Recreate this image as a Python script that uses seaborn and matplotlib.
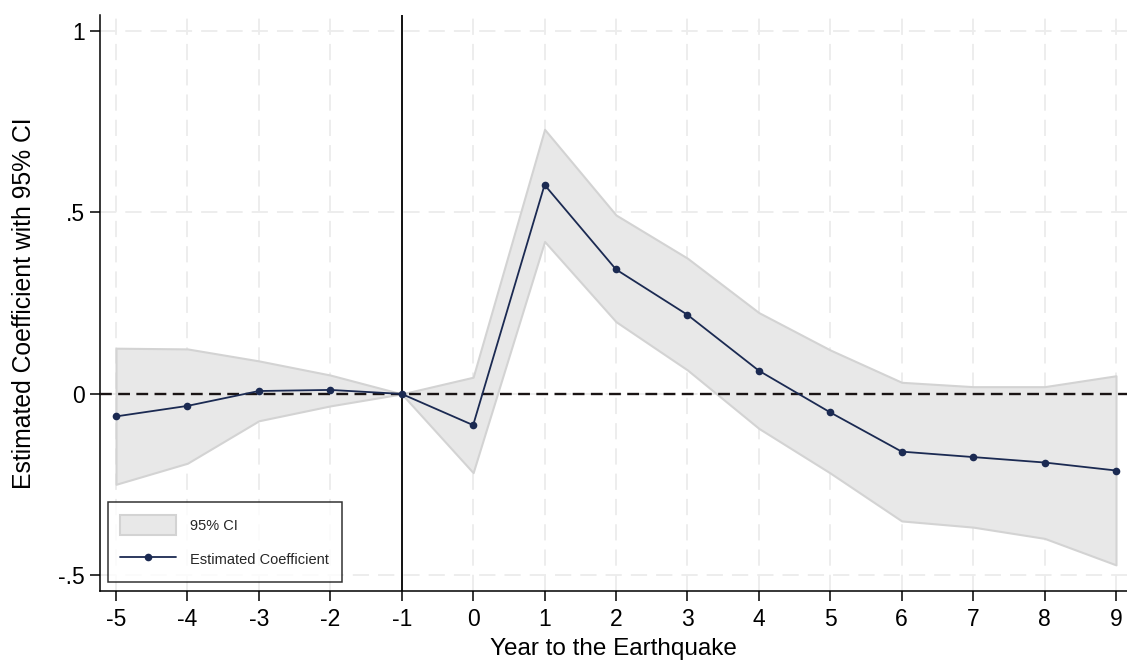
import matplotlib
matplotlib.use("Agg")
import matplotlib.pyplot as plt
from matplotlib.patches import Patch
from matplotlib.lines import Line2D
import seaborn as sns
import pandas as pd

# Event-study estimates relative to the earthquake year (-1 is the reference year)
years = [-5, -4, -3, -2, -1, 0, 1, 2, 3, 4, 5, 6, 7, 8, 9]
coef = [-0.062, -0.033, 0.008, 0.011, 0.0, -0.086, 0.576, 0.343, 0.218, 0.064,
        -0.051, -0.159, -0.174, -0.189, -0.211]
ci_upper = [0.126, 0.124, 0.091, 0.052, 0.0, 0.046, 0.729, 0.493, 0.374, 0.224,
            0.121, 0.032, 0.020, 0.020, 0.050]
ci_lower = [-0.249, -0.191, -0.074, -0.033, 0.0, -0.217, 0.420, 0.199, 0.066, -0.095,
            -0.218, -0.350, -0.367, -0.398, -0.471]
y_ticks = [-0.5, 0, 0.5, 1]
y_tick_labels = ["-.5", "0", ".5", "1"]

df = pd.DataFrame({"year": years, "coef": coef, "lo": ci_lower, "hi": ci_upper})

sns.set_theme(style="white")
plt.rcParams["font.family"] = ["Liberation Sans", "DejaVu Sans"]

navy = "#1b2a52"
fill_c = "#e8e8e8"
edge_c = "#d3d3d3"
grid_c = "#ececec"

fig = plt.figure(figsize=(11.27, 6.62), dpi=100)
ax = fig.add_axes([100 / 1127, 71 / 662, 1027 / 1127, 576 / 662])

ax.fill_between(df["year"], df["lo"], df["hi"], facecolor=fill_c, edgecolor=edge_c,
                linewidth=1.5, zorder=2)
ax.axhline(0, color="#1a1414", linewidth=1.7, dashes=(5, 2.7), zorder=3)
ax.axvline(-1, color="black", linewidth=1.3, zorder=3)
sns.lineplot(data=df, x="year", y="coef", ax=ax, color=navy, linewidth=1.3,
             marker="o", markersize=5.5, markeredgewidth=0, zorder=4)

ax.set_xlim(-5.224, 9.154)
ax.set_ylim(-0.543, 1.044)
ax.set_xticks(years)
ax.set_xticklabels([str(v) for v in years])
ax.set_yticks(y_ticks)
ax.set_yticklabels(y_tick_labels)

ax.grid(True, color=grid_c, linewidth=1.3, dashes=(9, 5))
ax.set_axisbelow(True)
for s in ["top", "right"]:
    ax.spines[s].set_visible(False)
for s in ["left", "bottom"]:
    ax.spines[s].set_color("black")
    ax.spines[s].set_linewidth(1.1)

ax.tick_params(axis="both", which="major", direction="out", length=7, width=1.1,
               color="black", labelsize=16.5, labelcolor="black", pad=5, bottom=True, left=True)
ax.tick_params(axis="y", pad=4)

ax.set_xlabel("Year to the Earthquake", fontsize=17.5, color="black")
ax.xaxis.set_label_coords(0.5, -0.082)
ax.set_ylabel("Estimated Coefficient with 95% CI", fontsize=17.8, color="black", labelpad=16)

handles = [
    Patch(facecolor=fill_c, edgecolor=edge_c, linewidth=1.5, label="95% CI"),
    Line2D([0], [0], color=navy, linewidth=1.3, marker="o", markersize=5.5,
           markeredgewidth=0, label="Estimated Coefficient"),
]
leg = ax.legend(handles=handles, loc="lower left", bbox_to_anchor=(8 / 1027, 9 / 576),
                fontsize=10.5, frameon=True, fancybox=False, edgecolor="black",
                handlelength=3.8, handleheight=1.75, handletextpad=1.0,
                labelspacing=1.0, borderpad=0.85, borderaxespad=0)
leg.get_frame().set_linewidth(1.1)

fig.savefig("out.png", dpi=100, facecolor="white")
